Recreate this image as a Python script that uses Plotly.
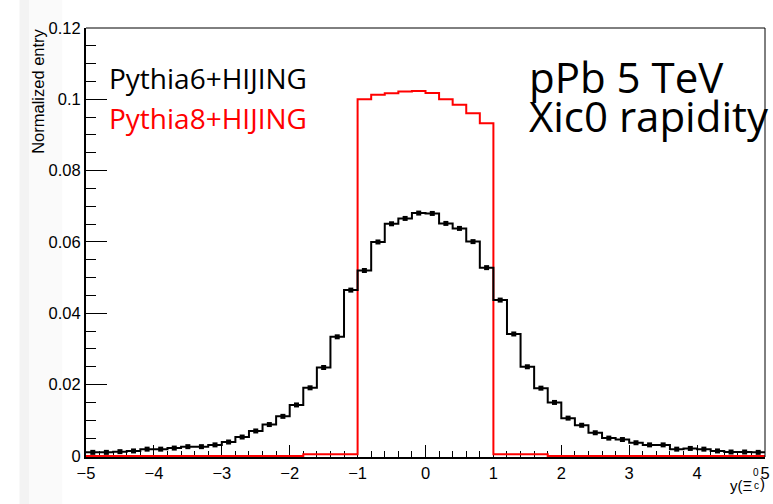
import numpy as np
import plotly.graph_objects as go

# ---- data ----
bin_edges = np.round(np.linspace(-5, 5, 51), 2)

pythia6_hijing = [
    0.0010, 0.0010, 0.0012, 0.0014, 0.0019, 0.0019, 0.0022, 0.0026, 0.0026, 0.0031,
    0.0039, 0.0053, 0.0070, 0.0088, 0.0111, 0.0143, 0.0191, 0.0248, 0.0334, 0.0465,
    0.0520, 0.0600, 0.0651, 0.0666, 0.0681, 0.0680, 0.0652, 0.0638, 0.0601, 0.0528,
    0.0437, 0.0342, 0.0250, 0.0190, 0.0150, 0.0106, 0.0086, 0.0065, 0.0050, 0.0046,
    0.0037, 0.0031, 0.0031, 0.0019, 0.0021, 0.0019, 0.0014, 0.0011, 0.0011, 0.0010,
]

pythia8_hijing = [
    0.0, 0.0, 0.0, 0.0, 0.0, 0.0, 0.0, 0.0, 0.0, 0.0,
    0.0, 0.0, 0.0, 0.0, 0.0, 0.0, 0.0005, 0.0005, 0.0005, 0.0005,
    0.1000, 0.1013, 0.1017, 0.1022, 0.1023, 0.1018, 0.1000, 0.0985, 0.0961, 0.0933,
    0.0005, 0.0005, 0.0005, 0.0005, 0.0, 0.0, 0.0, 0.0, 0.0, 0.0,
    0.0, 0.0, 0.0, 0.0, 0.0, 0.0, 0.0, 0.0, 0.0, 0.0,
]

y_ticks = [0, 0.02, 0.04, 0.06, 0.08, 0.1, 0.12]
y_tick_labels = ["0", "0.02", "0.04", "0.06", "0.08", "0.1", "0.12"]
x_ticks = [-5, -4, -3, -2, -1, 0, 1, 2, 3, 4, 5]
x_tick_labels = ["\u22125", "\u22124", "\u22123", "\u22122", "\u22121", "0", "1", "2", "3", "4", "5"]

legend_labels = ["Pythia6+HIJING", "Pythia8+HIJING"]
info_lines = ["pPb 5 TeV", "Xic0 rapidity"]
y_title = "Normalized entry"

# ---- layout geometry (pixels) ----
W, H = 773, 504
L, R, T, B = 86, 3, 28, 47
PW, PH = W - L - R, H - T - B
Y_MIN = -0.0003  # lets the zero-level red line sit on the axis line


def px(xp):
    return (xp - L) / PW


def py(yp):
    return (H - B - yp) / PH


centers = (bin_edges[:-1] + bin_edges[1:]) / 2

fig = go.Figure()

# red histogram
fig.add_trace(go.Scatter(
    x=bin_edges, y=list(pythia8_hijing) + [pythia8_hijing[-1]],
    mode="lines", line=dict(color="#ff0000", width=2, shape="hv"),
    showlegend=False, hoverinfo="skip",
))

# black histogram
fig.add_trace(go.Scatter(
    x=bin_edges, y=list(pythia6_hijing) + [pythia6_hijing[-1]],
    mode="lines", line=dict(color="#000000", width=2, shape="hv"),
    showlegend=False, hoverinfo="skip",
))
fig.add_trace(go.Scatter(
    x=centers, y=pythia6_hijing, mode="markers",
    marker=dict(symbol="square", size=5, color="#000000"),
    showlegend=False,
))

# grey strips at far left (slide background)
fig.add_shape(type="rect", xref="paper", yref="paper", x0=px(19), x1=px(29), y0=py(H), y1=py(0),
              fillcolor="#f3f3f3", line_width=0, layer="below")
fig.add_shape(type="rect", xref="paper", yref="paper", x0=px(29), x1=px(62), y0=py(H), y1=py(0),
              fillcolor="#fafafa", line_width=0, layer="below")

# top and right frame
fig.add_shape(type="line", xref="paper", yref="paper", x0=0, x1=1, y0=1, y1=1,
              line=dict(color="#000000", width=1))
fig.add_shape(type="line", xref="paper", yref="paper", x0=1, x1=1, y0=0, y1=1,
              line=dict(color="#000000", width=1))

ann_font = "Open Sans"
fig.add_annotation(xref="paper", yref="paper", x=px(107), y=py(77.5), xanchor="left", yanchor="middle",
                   text=legend_labels[0], showarrow=False,
                   font=dict(family=ann_font, size=28, color="#000000"))
fig.add_annotation(xref="paper", yref="paper", x=px(107), y=py(117.5), xanchor="left", yanchor="middle",
                   text=legend_labels[1], showarrow=False,
                   font=dict(family=ann_font, size=28, color="#ff0000"))
fig.add_annotation(xref="paper", yref="paper", x=px(530), y=py(76), xanchor="left", yanchor="middle",
                   text=info_lines[0], showarrow=False,
                   font=dict(family=ann_font, size=42, color="#000000"))
fig.add_annotation(xref="paper", yref="paper", x=px(530), y=py(115), xanchor="left", yanchor="middle",
                   text=info_lines[1], showarrow=False,
                   font=dict(family=ann_font, size=42, color="#000000"))

# axis titles
fig.add_annotation(xref="paper", yref="paper", x=px(38), y=py(27), xanchor="center", yanchor="top",
                   text=y_title, textangle=-90, showarrow=False,
                   font=dict(family="Liberation Sans", size=16.5, color="#000000"))
title_font = dict(family="Liberation Sans", size=15, color="#000000")
small_font = dict(family="Liberation Sans", size=10, color="#000000")
fig.add_annotation(xref="paper", yref="paper", x=px(759), y=py(485), xanchor="right", yanchor="middle",
                   text="y(\u039e", showarrow=False, font=title_font)
fig.add_annotation(xref="paper", yref="paper", x=px(761), y=py(472.5), xanchor="center", yanchor="middle",
                   text="0", showarrow=False, font=small_font)
fig.add_annotation(xref="paper", yref="paper", x=px(761), y=py(485), xanchor="center", yanchor="middle",
                   text="c", showarrow=False, font=small_font)
fig.add_annotation(xref="paper", yref="paper", x=px(763), y=py(483.5), xanchor="left", yanchor="middle",
                   text=")", showarrow=False, font=title_font)

fig.update_xaxes(
    range=[-5, 5], showgrid=False, zeroline=False,
    showline=True, linecolor="#000000", linewidth=2, layer="below traces",
    ticks="inside", ticklen=12, tickwidth=1, tickcolor="#000000",
    tickvals=x_ticks, ticktext=x_tick_labels, ticklabeloverflow="allow",
    tickfont=dict(family="Liberation Sans", size=16.5, color="#000000"),
    minor=dict(ticks="inside", dtick=0.2, ticklen=6, tickwidth=1, tickcolor="#000000", showgrid=False),
)
fig.update_yaxes(
    range=[Y_MIN, 0.12], showgrid=False, zeroline=False,
    showline=True, linecolor="#000000", linewidth=2, layer="below traces",
    ticks="inside", ticklen=21, tickwidth=1, tickcolor="#000000",
    tickvals=y_ticks, ticktext=y_tick_labels, ticklabeloverflow="allow",
    tickfont=dict(family="Liberation Sans", size=16.5, color="#000000"),
    minor=dict(ticks="inside", tick0=0, dtick=0.005, ticklen=10, tickwidth=1, tickcolor="#000000",
               showgrid=False),
)

fig.update_layout(
    width=W, height=H, margin=dict(l=L, r=R, t=T, b=B),
    plot_bgcolor="#ffffff", paper_bgcolor="#ffffff",
    showlegend=False,
)

fig.write_html("out.html")
